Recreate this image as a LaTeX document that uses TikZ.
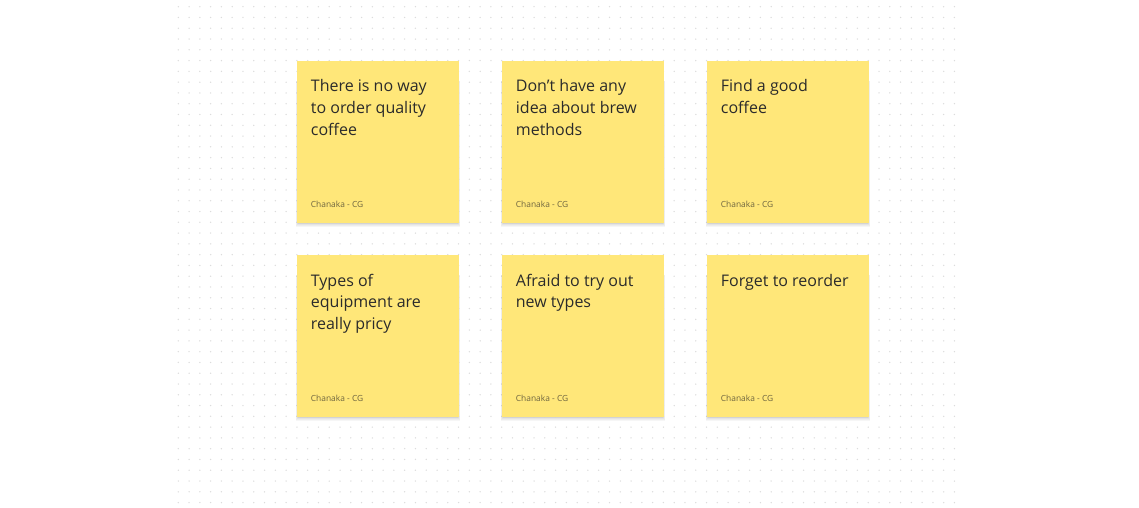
\documentclass[tikz,border=0pt]{standalone}
\usepackage{fontspec}
\setmainfont{Open Sans}
\definecolor{notefill}{HTML}{FFE779}
\definecolor{titletext}{HTML}{2B2B2B}
\definecolor{authortext}{HTML}{6E6540}
\definecolor{dotcol}{HTML}{DCDCDC}
\newcommand{\notelines}[1]{\begin{tabular}[t]{@{}l@{}}#1\end{tabular}}
\tikzset{
  sticky/.style={fill=notefill, draw=none, minimum width=162.3pt, minimum height=161.7pt,
    inner sep=0pt, anchor=north west},
  shadowlayer/.style={fill=black, fill opacity=0.035, draw=none},
  notetitle/.style={anchor=base west, inner sep=0pt, text=titletext,
    font=\fontsize{16}{21.6}\selectfont},
  noteauthor/.style={anchor=base west, inner sep=0pt, text=authortext,
    font=\fontsize{8.4}{10}\selectfont},
}
\begin{document}
\begin{tikzpicture}[x=1pt,y=-1pt]
\useasboundingbox (0,0) rectangle (1139,508);
\fill[white] (0,0) rectangle (1139,508);
% dot grid
\foreach \i in {0,...,72}{
  \foreach \j in {0,...,46}{
    \fill[dotcol] (178.3+\i*10.78, 6.7+\j*10.78) circle (0.75);
  }
}
% soft shadows
\foreach \x/\y in {296.7/61, 501.7/61, 706.7/61, 296.7/255, 501.7/255, 706.7/255}{
  \foreach \k in {1,...,6}{
    \fill[shadowlayer] (\x+2-\k*0.5,\y+20) rectangle (\x+160.3+\k*0.5,\y+160.7+\k*0.9);
  }
}
% notes
\node[sticky] (n1) at (296.7,61) {};
\node[sticky] (n2) at (501.7,61) {};
\node[sticky] (n3) at (706.7,61) {};
\node[sticky] (n4) at (296.7,255) {};
\node[sticky] (n5) at (501.7,255) {};
\node[sticky] (n6) at (706.7,255) {};
% titles
\node[notetitle] (t1) at ([xshift=14pt,yshift=-31pt]n1.north west) {\notelines{There is no way\\to order quality\\coffee}};
\node[notetitle] (t2) at ([xshift=14pt,yshift=-31pt]n2.north west) {\notelines{Don{\char"27}t have any\\idea about brew\\methods}};
\node[notetitle] (t3) at ([xshift=14pt,yshift=-31pt]n3.north west) {\notelines{Find a good\\coffee}};
\node[notetitle] (t4) at ([xshift=14pt,yshift=-31pt]n4.north west) {\notelines{Types of\\equipment are\\really pricy}};
\node[notetitle] (t5) at ([xshift=14pt,yshift=-31pt]n5.north west) {\notelines{Afraid to try out\\new types}};
\node[notetitle] (t6) at ([xshift=14pt,yshift=-31pt]n6.north west) {\notelines{Forget to reorder}};
% authors
\foreach \k in {1,...,6}{
  \node[noteauthor] (a\k) at ([xshift=14pt,yshift=-146pt]n\k.north west) {Chanaka - CG};
}
\end{tikzpicture}
\end{document}
